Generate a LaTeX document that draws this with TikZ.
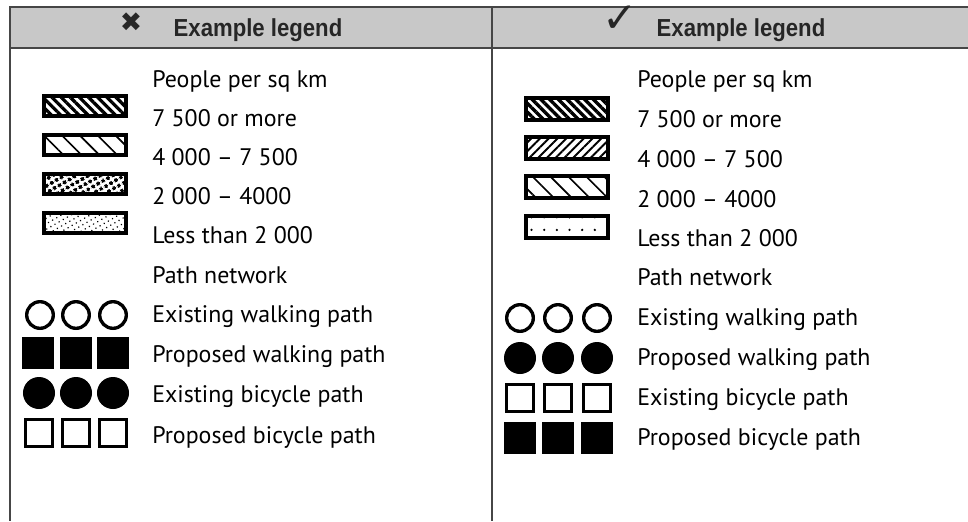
\documentclass[tikz,border=0pt]{standalone}
\usepackage{fontspec}
\setmainfont{PT Sans}
\newfontfamily\headfont[FakeStretch=0.9]{Liberation Sans}
\newfontfamily\symfont{DejaVu Sans}
\usetikzlibrary{patterns.meta}
\definecolor{headgray}{RGB}{200,200,200}
\definecolor{rulegray}{RGB}{70,70,70}
\tikzstyle{entry}=[anchor=base west, inner sep=0pt, font=\fontsize{17}{20}\selectfont]
\tikzstyle{head}=[inner sep=0pt, font=\headfont\bfseries\fontsize{17.5}{19}\selectfont, text=black!85]
\tikzstyle{sign}=[inner sep=0pt, font=\symfont\fontsize{19}{19}\selectfont, text=black!85]
\tikzstyle{boxl}=[rectangle, draw, line width=2.6pt, minimum width=2.05cm, minimum height=0.5cm, inner sep=0pt]
\tikzstyle{boxr}=[rectangle, draw, line width=2.6pt, minimum width=2.05cm, minimum height=0.55cm, inner sep=0pt]
\tikzstyle{ring}=[circle, draw, line width=2.4pt, minimum size=0.665cm, inner sep=0pt]
\tikzstyle{disc}=[circle, fill, minimum size=0.8cm, inner sep=0pt]
\tikzstyle{block}=[rectangle, fill, minimum size=0.78cm, inner sep=0pt]
\tikzstyle{hollow}=[rectangle, draw, line width=2.4pt, minimum size=0.68cm, inner sep=0pt]

\begin{document}
\begin{tikzpicture}[x=0.025cm, y=-0.025cm]
		   \useasboundingbox (0,0) rectangle (968,521);
		   % header band and column rules
		   \begin{scope}
			   \fill[headgray] (10,7) rectangle (968,48);
			   \draw[rulegray, line width=1.4pt] (968,7) -- (10,7) -- (10,48) -- (968,48);
			   \draw[rulegray, line width=1.4pt] (492,7) -- (492,48);
			   \draw[rulegray, line width=1.2pt] (10,48) -- (10,521);
			   \draw[rulegray, line width=1.2pt] (492,48) -- (492,521);
			   \node (xl) at (131,22) [sign] {✖};
			   \node (hl) at (258,30) [head] {Example legend};
			   \node (ok) at (620,19) [sign, font=\symfont\fontsize{30}{30}\selectfont] {✓};
			   \node (hr) at (741,30) [head] {Example legend};
		   \end{scope}
		   % wrong legend
		   \begin{scope}
			   \node (l0) at (152,87) [entry] {People per sq km};
			   \node (l1) at (152,126) [entry] {7 500 or more};
			   \node (l2) at (152,165) [entry] {4 000 – 7 500};
			   \node (l3) at (152,204) [entry] {2 000 – 4000};
			   \node (l4) at (152,243) [entry] {Less than 2 000};
			   \node (l5) at (152,283) [entry] {Path network};
			   \node (l6) at (152,322) [entry] {Existing walking path};
			   \node (l7) at (152,362) [entry] {Proposed walking path};
			   \node (l8) at (152,402) [entry] {Existing bicycle path};
			   \node (l9) at (152,443) [entry] {Proposed bicycle path};

			   \node (lb1) at (85,106) [boxl, pattern={Lines[angle=-45,distance=4.6pt,line width=2.3pt]}] {};
			   \node (lb2) at (85,145) [boxl, pattern={Lines[angle=-45,distance=9pt,line width=1.2pt]}] {};
			   \node (lb3) at (85,184) [boxl, pattern={Dots[angle=30,distance=4pt,radius=1.5pt]}] {};
			   \node (lb4) at (85,223) [boxl, pattern={Dots[angle=30,distance=3.4pt,radius=0.6pt]}] {};

			   \node (la1) at (40,315) [ring] {};
			   \node (la2) at (76,315) [ring] {};
			   \node (la3) at (113,315) [ring] {};
			   \node (lc1) at (38,353) [block] {};
			   \node (lc2) at (76,353) [block] {};
			   \node (lc3) at (113,353) [block] {};
			   \node (ld1) at (39,393) [disc] {};
			   \node (ld2) at (76,393) [disc] {};
			   \node (ld3) at (113,393) [disc] {};
			   \node (le1) at (39,433) [hollow] {};
			   \node (le2) at (76,433) [hollow] {};
			   \node (le3) at (113,433) [hollow] {};
		   \end{scope}
		   % right legend
		   \begin{scope}
			   \node (r0) at (637,87) [entry] {People per sq km};
			   \node (r1) at (637,127) [entry] {7 500 or more};
			   \node (r2) at (637,167) [entry] {4 000 – 7 500};
			   \node (r3) at (637,207) [entry] {2 000 – 4000};
			   \node (r4) at (637,246) [entry] {Less than 2 000};
			   \node (r5) at (637,285) [entry] {Path network};
			   \node (r6) at (637,325) [entry] {Existing walking path};
			   \node (r7) at (637,365) [entry] {Proposed walking path};
			   \node (r8) at (637,405) [entry] {Existing bicycle path};
			   \node (r9) at (637,445) [entry] {Proposed bicycle path};

			   \node (rb1) at (567,109) [boxr, pattern={Lines[angle=-45,distance=4.4pt,line width=2.4pt]}] {};
			   \node (rb2) at (567,148) [boxr, pattern={Lines[angle=45,distance=4.4pt,line width=1.3pt]}] {};
			   \node (rb3) at (567,187) [boxr, pattern={Lines[angle=-45,distance=9pt,line width=1.2pt]}] {};
			   \node (rb4) at (567,227) [boxr, pattern={Dots[distance=9pt,radius=0.9pt]}] {};

			   \node (ra1) at (520,318) [ring] {};
			   \node (ra2) at (558,318) [ring] {};
			   \node (ra3) at (597,318) [ring] {};
			   \node (rc1) at (520,358) [disc] {};
			   \node (rc2) at (558,358) [disc] {};
			   \node (rc3) at (597,358) [disc] {};
			   \node (rd1) at (520,398) [hollow] {};
			   \node (rd2) at (558,398) [hollow] {};
			   \node (rd3) at (597,398) [hollow] {};
			   \node (re1) at (520,438) [block] {};
			   \node (re2) at (558,438) [block] {};
			   \node (re3) at (597,438) [block] {};
		   \end{scope}
	   \end{tikzpicture}
\end{document}
